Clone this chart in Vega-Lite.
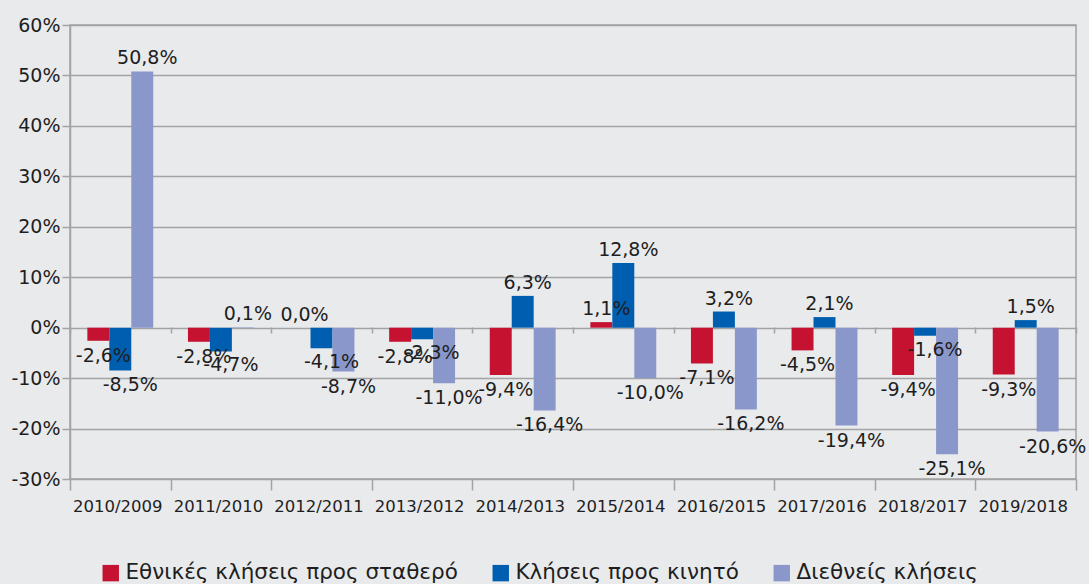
{
  "$schema": "https://vega.github.io/schema/vega-lite/v6.json",
  "width": 1006,
  "height": 454,
  "autosize": {"type": "none"},
  "padding": {"left": 70, "top": 25, "right": 13, "bottom": 105},
  "background": "#e9eaec",
  "config": {
    "locale": {"number": {"decimal": ",", "thousands": ".", "grouping": [3], "currency": ["", " €"], "minus": "-"}},
    "view": {"stroke": "#a3a3a3", "strokeWidth": 1.5},
    "font": "DejaVu Sans"
  },
  "data": {
    "values": [
      {"period": "2010/2009", "series": "Εθνικές κλήσεις προς σταθερό", "value": -0.026},
      {"period": "2010/2009", "series": "Κλήσεις προς κινητό", "value": -0.085},
      {"period": "2010/2009", "series": "Διεθνείς κλήσεις", "value": 0.508},
      {"period": "2011/2010", "series": "Εθνικές κλήσεις προς σταθερό", "value": -0.028},
      {"period": "2011/2010", "series": "Κλήσεις προς κινητό", "value": -0.047},
      {"period": "2011/2010", "series": "Διεθνείς κλήσεις", "value": 0.001},
      {"period": "2012/2011", "series": "Εθνικές κλήσεις προς σταθερό", "value": 0.0},
      {"period": "2012/2011", "series": "Κλήσεις προς κινητό", "value": -0.041},
      {"period": "2012/2011", "series": "Διεθνείς κλήσεις", "value": -0.087},
      {"period": "2013/2012", "series": "Εθνικές κλήσεις προς σταθερό", "value": -0.028},
      {"period": "2013/2012", "series": "Κλήσεις προς κινητό", "value": -0.023},
      {"period": "2013/2012", "series": "Διεθνείς κλήσεις", "value": -0.11},
      {"period": "2014/2013", "series": "Εθνικές κλήσεις προς σταθερό", "value": -0.094},
      {"period": "2014/2013", "series": "Κλήσεις προς κινητό", "value": 0.063},
      {"period": "2014/2013", "series": "Διεθνείς κλήσεις", "value": -0.164},
      {"period": "2015/2014", "series": "Εθνικές κλήσεις προς σταθερό", "value": 0.011},
      {"period": "2015/2014", "series": "Κλήσεις προς κινητό", "value": 0.128},
      {"period": "2015/2014", "series": "Διεθνείς κλήσεις", "value": -0.1},
      {"period": "2016/2015", "series": "Εθνικές κλήσεις προς σταθερό", "value": -0.071},
      {"period": "2016/2015", "series": "Κλήσεις προς κινητό", "value": 0.032},
      {"period": "2016/2015", "series": "Διεθνείς κλήσεις", "value": -0.162},
      {"period": "2017/2016", "series": "Εθνικές κλήσεις προς σταθερό", "value": -0.045},
      {"period": "2017/2016", "series": "Κλήσεις προς κινητό", "value": 0.021},
      {"period": "2017/2016", "series": "Διεθνείς κλήσεις", "value": -0.194},
      {"period": "2018/2017", "series": "Εθνικές κλήσεις προς σταθερό", "value": -0.094},
      {"period": "2018/2017", "series": "Κλήσεις προς κινητό", "value": -0.016},
      {"period": "2018/2017", "series": "Διεθνείς κλήσεις", "value": -0.251},
      {"period": "2019/2018", "series": "Εθνικές κλήσεις προς σταθερό", "value": -0.093},
      {"period": "2019/2018", "series": "Κλήσεις προς κινητό", "value": 0.015},
      {"period": "2019/2018", "series": "Διεθνείς κλήσεις", "value": -0.206}
    ]
  },
  "encoding": {
    "xOffset": {"field": "series", "type": "nominal", "sort": ["Εθνικές κλήσεις προς σταθερό", "Κλήσεις προς κινητό", "Διεθνείς κλήσεις"], "scale": {"paddingInner": 0, "paddingOuter": 0.79}},
    "y": {
      "field": "value", "type": "quantitative",
      "scale": {"domain": [-0.3, 0.6], "nice": false, "zero": false},
      "axis": {
        "values": [-0.3, -0.2, -0.1, 0, 0.1, 0.2, 0.3, 0.4, 0.5, 0.6],
        "format": ".0%", "title": null, "labelFontSize": 19, "labelColor": "#1e1e1e",
        "grid": true, "gridColor": "#a3a3a3", "gridWidth": 1.5,
        "domainColor": "#a3a3a3", "domainWidth": 1.5, "tickColor": "#a3a3a3", "tickWidth": 1.5, "tickSize": 8, "labelPadding": 2
      }
    }
  },
  "layer": [
    {
      "mark": {"type": "bar"},
      "encoding": {
        "x": {"field": "period", "type": "nominal", "sort": null, "scale": {"paddingInner": 0, "paddingOuter": 0},
          "axis": {"title": null, "orient": "bottom", "labelAngle": 0, "labelFontSize": 16.5, "labelColor": "#1e1e1e", "tickBand": "extent", "tickSize": 11, "tickColor": "#a3a3a3", "tickWidth": 1.5, "domain": false, "labelPadding": 8, "labelOffset": -3}},
        "color": {
          "field": "series", "type": "nominal",
          "sort": ["Εθνικές κλήσεις προς σταθερό", "Κλήσεις προς κινητό", "Διεθνείς κλήσεις"],
          "scale": {"domain": ["Εθνικές κλήσεις προς σταθερό", "Κλήσεις προς κινητό", "Διεθνείς κλήσεις"], "range": ["#c41230", "#005eb0", "#8a97cb"]},
          "legend": {"orient": "none", "legendX": 30, "legendY": 537, "direction": "horizontal", "title": null, "symbolType": "square", "symbolSize": 270, "symbolStrokeWidth": 0, "labelFontSize": 21.5, "labelColor": "#1e1e1e", "labelLimit": 500, "columnPadding": 32}
        }
      }
    },
    {
      "transform": [{"filter": "datum.value >= 0"}],
      "mark": {"type": "text", "baseline": "bottom", "dy": -3, "dx": 5, "fontSize": 19, "color": "#1e1e1e"},
      "encoding": {
        "x": {"field": "period", "type": "nominal", "sort": null,
          "axis": {"title": null, "orient": "bottom", "offset": -152, "labels": false, "domain": false, "tickBand": "extent", "tickSize": 6, "tickColor": "#a3a3a3", "tickWidth": 1.5}},
        "text": {"field": "value", "type": "quantitative", "format": ".1%"}
      }
    },
    {
      "transform": [{"filter": "datum.value < 0 && datum.series === 'Κλήσεις προς κινητό'"}],
      "mark": {"type": "text", "baseline": "top", "dy": 5, "dx": 10, "fontSize": 19, "color": "#1e1e1e"},
      "encoding": {
        "x": {"field": "period", "type": "nominal", "sort": null, "axis": null},
        "text": {"field": "value", "type": "quantitative", "format": ".1%"}
      }
    },
    {
      "transform": [{"filter": "datum.value < 0 && datum.series !== 'Κλήσεις προς κινητό'"}],
      "mark": {"type": "text", "baseline": "top", "dy": 6, "dx": 5, "fontSize": 19, "color": "#1e1e1e"},
      "encoding": {
        "x": {"field": "period", "type": "nominal", "sort": null, "axis": null},
        "text": {"field": "value", "type": "quantitative", "format": ".1%"}
      }
    }
  ],
  "resolve": {"axis": {"x": "independent"}}
}
